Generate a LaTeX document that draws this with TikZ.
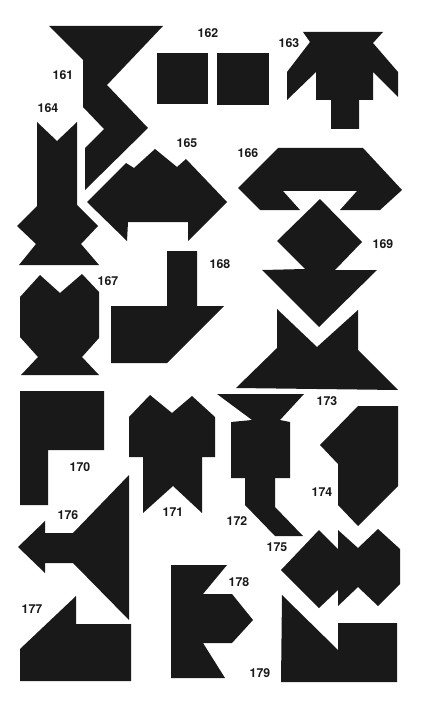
\documentclass[tikz,border=0pt]{standalone}
\usepackage{fontspec}
\setsansfont{TeX Gyre Heros}
\usetikzlibrary{positioning}

\begin{document}
\begin{tikzpicture}[x=0.03cm, y=-0.03cm,
  piece/.style={fill=black!90, draw=none},
  num/.style={font=\sffamily\bfseries\fontsize{10.5}{13}\selectfont, text=black!90, inner sep=1pt},
]
\useasboundingbox (0,0) rectangle (429,709);
% first row
\fill[piece] (49,26) -- (163,26) -- (107,85) -- (148,128) -- (85,190) -- (85,148)
  -- (104,129) -- (83,107) -- (83,60) -- cycle;
\fill[piece] (157,53) rectangle (208,104);
\fill[piece] (217,53) rectangle (269,105);
\fill[piece] (303,32) -- (383,32) -- (373,43) -- (398,72) -- (398,97) -- (373,72)
  -- (373,100) -- (359,100) -- (359,129) -- (331,129) -- (331,100) -- (316,100)
  -- (316,72) -- (287,100) -- (287,72) -- (310,42) -- cycle;
\node[num] (n161) at (63,75) {161};
\node[num] (n162) at (208,33) {162};
\node[num] (n163) at (289,43) {163};
% second row
\fill[piece] (37,122) -- (57,141) -- (77,122) -- (77,205) -- (98,226) -- (81,244)
  -- (99,265) -- (19,265) -- (36,244) -- (17,226) -- (37,206) -- cycle;
\fill[piece] (87,202) -- (126,163) -- (134,168) -- (155,149) -- (177,167) -- (186,159)
  -- (227,202) -- (188,241) -- (188,222) -- (128,222) -- (127,241) -- cycle;
\fill[piece] (278,148) -- (363,148) -- (402,190) -- (380,210) -- (340,210) -- (357,191)
  -- (283,191) -- (300,210) -- (260,210) -- (238,188) -- cycle;
\node[num] (n164) at (48,108) {164};
\node[num] (n165) at (187,143) {165};
\node[num] (n166) at (248,153) {166};
% third row
\fill[piece] (40,275) -- (60,293) -- (82,274) -- (99,292) -- (99,338) -- (82,357)
  -- (99,375) -- (21,375) -- (38,357) -- (20,337) -- (20,297) -- cycle;
\fill[piece] (167,251) -- (197,251) -- (197,306) -- (224,306) -- (167,363) -- (111,363)
  -- (111,306) -- (167,306) -- cycle;
\fill[piece] (320,199) -- (362,242) -- (335,270) -- (377,270) -- (319,327) -- (262,270)
  -- (305,269) -- (277,241) -- cycle;
\fill[piece] (277,309) -- (317,347) -- (358,310) -- (358,350) -- (398,390) -- (236,388)
  -- (277,348) -- cycle;
\node[num] (n167) at (108,281) {167};
\node[num] (n168) at (220,264) {168};
\node[num] (n169) at (383,244) {169};
\node[num] (n173) at (327,401) {173};
% fourth row
\fill[piece] (20,391) -- (104,391) -- (104,450) -- (48,450) -- (48,505) -- (20,505) -- cycle;
\fill[piece] (150,395) -- (172,413) -- (192,396) -- (215,417) -- (215,457) -- (202,457)
  -- (202,513) -- (173,486) -- (143,513) -- (143,457) -- (129,457) -- (129,417) -- cycle;
\fill[piece] (217,394) -- (304,394) -- (280,420) -- (290,422) -- (290,478) -- (275,478)
  -- (275,507) -- (303,536) -- (275,536) -- (245,505) -- (245,478) -- (231,478)
  -- (231,422) -- (252,420) -- cycle;
\fill[piece] (358,406) -- (398,406) -- (398,486) -- (358,526) -- (338,505) -- (338,464)
  -- (320,445) -- cycle;
\node[num] (n170) at (80,467) {170};
\node[num] (n171) at (173,512) {171};
\node[num] (n172) at (237,521) {172};
\node[num] (n174) at (322,492) {174};
% fifth row
\fill[piece] (129,475) -- (129,620) -- (73,563) -- (45,563) -- (45,573) -- (18,547)
  -- (45,521) -- (45,533) -- (73,533) -- cycle;
\fill[piece] (76,596) -- (76,624) -- (131,624) -- (131,681) -- (20,681) -- (20,649) -- cycle;
\fill[piece] (171,565) -- (227,565) -- (203,594) -- (232,594) -- (253,620) -- (232,643)
  -- (203,643) -- (225,678) -- (171,678) -- cycle;
\fill[piece] (281,570) -- (319,530) -- (338,549) -- (338,530) -- (358,548) -- (378,529)
  -- (400,549) -- (400,584) -- (378,606) -- (358,587) -- (338,606) -- (338,590)
  -- (319,608) -- cycle;
\fill[piece] (282,595) -- (338,650) -- (338,623) -- (397,623) -- (397,682) -- (281,682) -- cycle;
\node[num] (n175) at (277,547) {175};
\node[num] (n176) at (68,515) {176};
\node[num] (n177) at (32,609) {177};
\node[num] (n178) at (239,582) {178};
\node[num] (n179) at (260,673) {179};
\end{tikzpicture}
\end{document}
